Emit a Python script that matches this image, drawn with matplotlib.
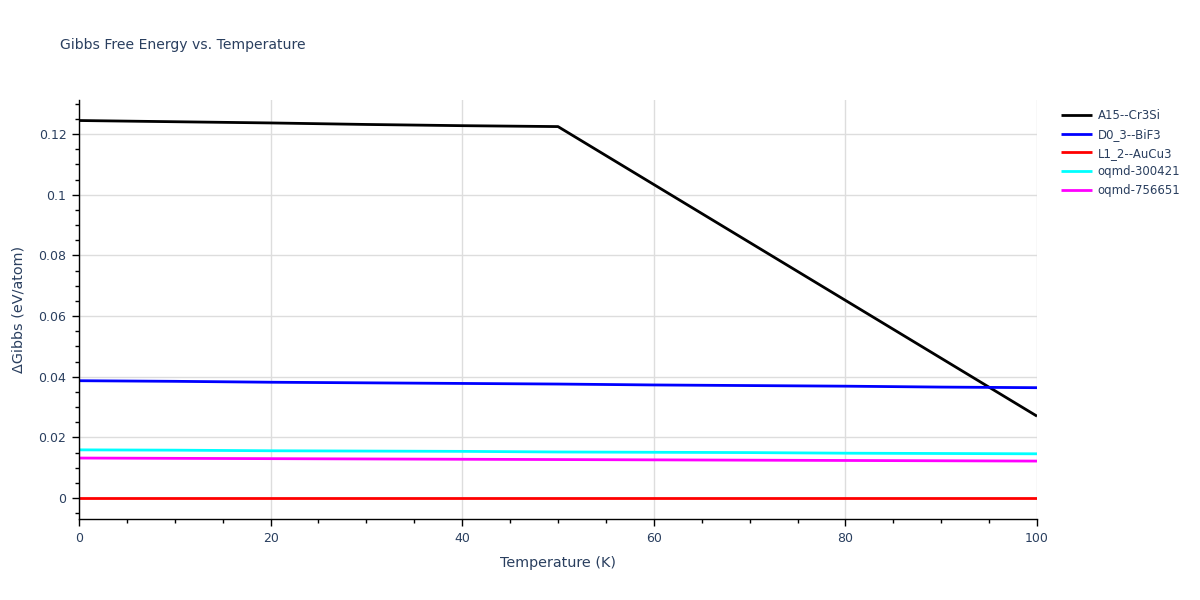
import numpy as np
import matplotlib.pyplot as plt
from matplotlib.ticker import MultipleLocator, FuncFormatter

# temperatures (K)
temps = [0, 10, 20, 30, 40, 50, 60, 70, 80, 90, 100]

# Gibbs free energy relative to L1_2 (eV/atom)
g_a15 = [0.1245, 0.1241, 0.1237, 0.1232, 0.1228, 0.1225, 0.1034, 0.0843, 0.0652, 0.0461, 0.0270]
g_d03 = [0.0387, 0.0385, 0.0382, 0.0380, 0.0378, 0.0376, 0.0373, 0.0371, 0.0369, 0.0366, 0.0364]
g_l12 = [0, 0, 0, 0, 0, 0, 0, 0, 0, 0, 0]
g_300421 = [0.0159, 0.0158, 0.0156, 0.0155, 0.0154, 0.0152, 0.0151, 0.0150, 0.0148, 0.0147, 0.0146]
g_756651 = [0.0132, 0.0131, 0.0130, 0.0129, 0.0128, 0.0127, 0.0126, 0.0125, 0.0124, 0.0123, 0.0122]

names = ['A15--Cr3Si', 'D0_3--BiF3', 'L1_2--AuCu3', 'oqmd-300421', 'oqmd-756651']
colors = ['black', 'blue', 'red', 'cyan', 'magenta']

txt = '#2a3f5f'
plt.rcParams['font.family'] = ['DejaVu Sans']

fig = plt.figure(figsize=(12, 6), dpi=100)
ax = fig.add_axes([0.0658, 0.135, 0.7984, 0.698])

series = [g_a15, g_d03, g_l12, g_300421, g_756651]
for vals, name, c in zip(series, names, colors):
    ax.plot(temps, vals, color=c, lw=2, label=name, solid_capstyle='butt')

ax.set_xlim(0, 100)
ax.set_ylim(-0.0069, 0.1312)

ax.xaxis.set_major_locator(MultipleLocator(20))
ax.xaxis.set_minor_locator(MultipleLocator(5))
ax.yaxis.set_major_locator(MultipleLocator(0.02))
ax.yaxis.set_minor_locator(MultipleLocator(0.005))
ax.yaxis.set_major_formatter(FuncFormatter(lambda v, p: '0' if abs(v) < 1e-9 else ('%g' % round(v, 3))))

ax.grid(True, which='major', color='#dddddd', lw=1)
ax.set_axisbelow(True)
for s in ['top', 'right']:
    ax.spines[s].set_visible(False)
for s in ['left', 'bottom']:
    ax.spines[s].set_color('black')
    ax.spines[s].set_linewidth(1)

ax.tick_params(which='major', direction='out', length=5, width=1, color='black',
               labelcolor=txt, labelsize=9, pad=4)
ax.tick_params(which='minor', direction='out', length=3, width=1, color='black')

ax.set_xlabel('Temperature (K)', color=txt, fontsize=10.4, labelpad=8)
ax.set_ylabel('ΔGibbs (eV/atom)', color=txt, fontsize=10.4, labelpad=9)

fig.text(0.05, 0.925, 'Gibbs Free Energy vs. Temperature', color=txt, fontsize=10.1,
         ha='left', va='center')

leg = ax.legend(loc='upper left', bbox_to_anchor=(1.014, 1.005), frameon=False,
                fontsize=8.5, handlelength=2.6, handletextpad=0.5, labelspacing=0.5)
for t in leg.get_texts():
    t.set_color(txt)

fig.savefig('out.png', dpi=100)
